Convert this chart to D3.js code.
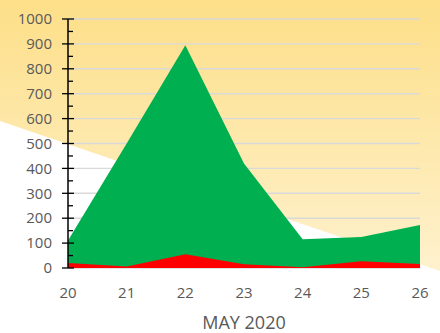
<!DOCTYPE html>
<html>
<head>
<meta charset="utf-8">
<script src="https://cdn.jsdelivr.net/npm/d3@7/dist/d3.min.js"></script>
<style>
  html, body { margin: 0; padding: 0; background: #fff; }
  svg { display: block; }
</style>
</head>
<body>
<svg id="chart" width="440" height="333"></svg>
<script>
// Daily counts, May 2020
const days = [20, 21, 22, 23, 24, 25, 26];
const totalCases = [110, 500, 895, 420, 115, 125, 173];
const redCases = [20, 6, 55, 15, 3, 27, 16];
const yTicks = [0, 100, 200, 300, 400, 500, 600, 700, 800, 900, 1000];
const axisTitle = "MAY 2020";

const W = 440, H = 333;
const svg = d3.select("#chart");

// Background: warm yellow wash above a diagonal, white below
const defs = svg.append("defs");
const grad = defs.append("linearGradient")
  .attr("id", "bgGrad").attr("x1", 0).attr("y1", 0).attr("x2", 0).attr("y2", 1);
grad.append("stop").attr("offset", "0%").attr("stop-color", "#fddf88");
grad.append("stop").attr("offset", "100%").attr("stop-color", "#fef1cd");

svg.append("rect").attr("width", W).attr("height", H).attr("fill", "#ffffff");
svg.append("path")
  .attr("d", `M0,0 L${W},0 L${W},271 L0,121 Z`)
  .attr("fill", "url(#bgGrad)");

const x = d3.scaleLinear().domain([20, 26]).range([68, 420]);
const y = d3.scaleLinear().domain([0, 1000]).range([268, 19]);

// Gridlines
svg.append("g")
  .selectAll("line")
  .data(yTicks)
  .join("line")
  .attr("x1", x(20)).attr("x2", x(26))
  .attr("y1", d => y(d)).attr("y2", d => y(d))
  .attr("stroke", "#d9d9d9").attr("stroke-width", 1.4);

// Areas
const rows = days.map((d, i) => ({ day: d, total: totalCases[i], red: redCases[i] }));
const areaTotal = d3.area().x(d => x(d.day)).y0(y(0)).y1(d => y(d.total));
const areaRed = d3.area().x(d => x(d.day)).y0(y(0)).y1(d => y(d.red));

svg.append("path").datum(rows).attr("d", areaTotal).attr("fill", "#00b050");
svg.append("path").datum(rows).attr("d", areaRed).attr("fill", "#ff0000");

// Y axis with crossing major ticks and inner minor ticks
const yAxis = svg.append("g");
yAxis.append("line")
  .attr("x1", 68).attr("x2", 68).attr("y1", y(1000)).attr("y2", y(0))
  .attr("stroke", "#000").attr("stroke-width", 1.5);
yAxis.selectAll("line.major")
  .data(yTicks)
  .join("line").attr("class", "major")
  .attr("x1", 62).attr("x2", 74)
  .attr("y1", d => y(d)).attr("y2", d => y(d))
  .attr("stroke", "#000").attr("stroke-width", 1.3);
yAxis.selectAll("line.minor")
  .data(d3.range(50, 1000, 100))
  .join("line").attr("class", "minor")
  .attr("x1", 68).attr("x2", 73)
  .attr("y1", d => y(d)).attr("y2", d => y(d))
  .attr("stroke", "#000").attr("stroke-width", 1.3);
yAxis.selectAll("text")
  .data(yTicks)
  .join("text")
  .attr("x", 52).attr("y", d => y(d))
  .attr("dy", "0.35em")
  .attr("text-anchor", "end")
  .attr("font-family", "'Open Sans', sans-serif")
  .attr("font-size", 15)
  .attr("fill", "#595959")
  .text(d => d);

// X tick labels
svg.append("g").selectAll("text")
  .data(days)
  .join("text")
  .attr("x", d => x(d)).attr("y", 298)
  .attr("text-anchor", "middle")
  .attr("font-family", "'Open Sans', sans-serif")
  .attr("font-size", 15)
  .attr("fill", "#595959")
  .text(d => d);

// Axis title
svg.append("text")
  .attr("x", 244).attr("y", 329)
  .attr("text-anchor", "middle")
  .attr("font-family", "'Open Sans', sans-serif")
  .attr("font-size", 18)
  .attr("fill", "#595959")
  .text(axisTitle);
</script>
</body>
</html>
